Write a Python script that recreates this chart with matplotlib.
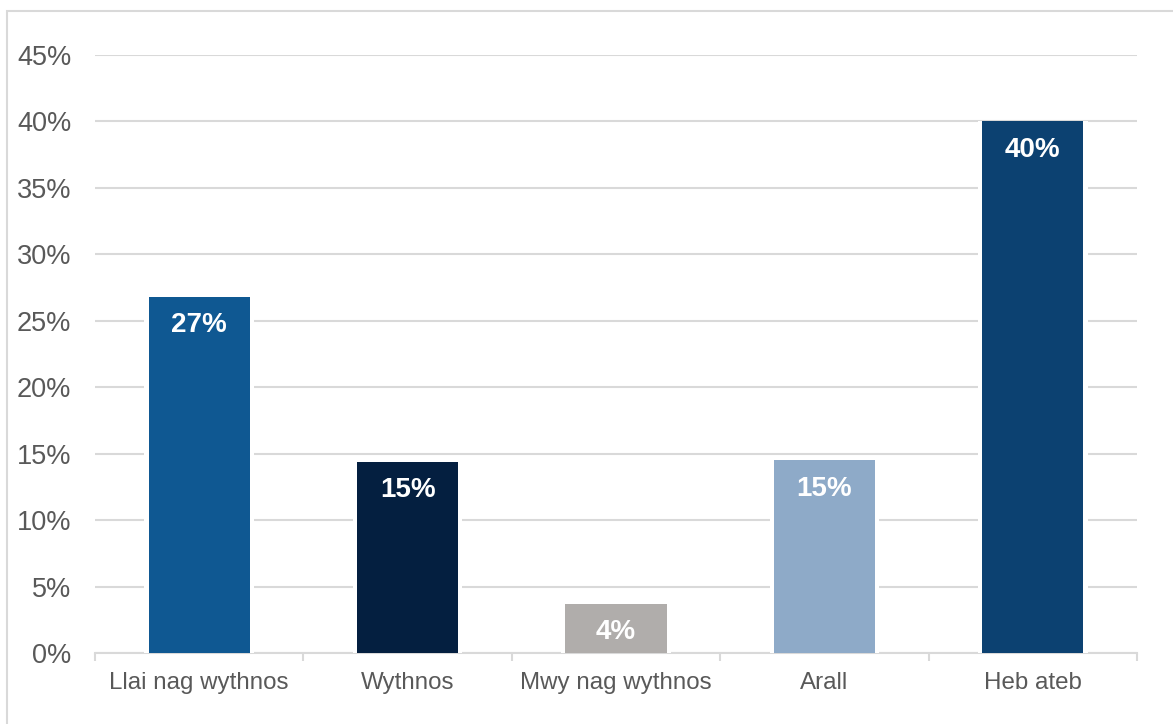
import matplotlib.pyplot as plt
import matplotlib.patches as mpatches
import numpy as np

categories = ["Llai nag wythnos", "Wythnos", "Mwy nag wythnos", "Arall", "Heb ateb"]
values = [26.8, 14.4, 3.7, 14.5, 40.0]
labels = ["27%", "15%", "4%", "15%", "40%"]
colors = ["#0f5892", "#041f40", "#b0adab", "#8eaac8", "#0c4171"]

plt.rcParams['font.family'] = ['Liberation Sans', 'DejaVu Sans']

fig = plt.figure(figsize=(11.73, 7.24), dpi=100)
ax = fig.add_axes([95 / 1173, 1 - 653 / 724, (1137 - 95) / 1173, (653 - 55) / 724])

# light frame around the chart
fig.patches.append(mpatches.Rectangle((7 / 1173, -0.1), 1.2, 1.1 - 11 / 724,
                                      transform=fig.transFigure, fill=False,
                                      edgecolor="#d9d9d9", linewidth=1.5))

x = np.arange(len(categories))
w = 0.485
# white halo so gridlines stop short of the bars
ax.bar(x, values, width=w + 0.04, color="white", zorder=2)
ax.bar(x, values, width=w, color=colors, zorder=3)

for xi, v, lab in zip(x, values, labels):
    ax.annotate(lab, (xi, v), xytext=(0, -11), textcoords="offset points",
                ha="center", va="top", color="white", fontsize=20, fontweight="bold", zorder=4)

ax.set_xlim(-0.5, len(categories) - 0.5)
ax.set_ylim(0, 45)
ax.set_yticks(np.arange(0, 46, 5))
ax.set_yticklabels([f"{t}%" for t in range(0, 46, 5)], fontsize=19.5, color="#595959")
ax.tick_params(axis="y", length=0, pad=17)
ax.yaxis.grid(True, color="#d9d9d9", linewidth=1.5, zorder=1)
ax.set_axisbelow(True)

ax.set_xticks(x)
ax.set_xticklabels(categories, fontsize=17.4, color="#595959")
ax.tick_params(axis="x", length=0, pad=14)
ax.set_xticks(np.arange(-0.5, len(categories), 1), minor=True)
ax.tick_params(axis="x", which="minor", length=6, width=1.5, color="#d9d9d9")

for s in ["top", "right", "left"]:
    ax.spines[s].set_visible(False)
ax.spines["bottom"].set_color("#d9d9d9")
ax.spines["bottom"].set_linewidth(1.5)
ax.spines["bottom"].set_zorder(1)

fig.savefig("out.png", dpi=100)
